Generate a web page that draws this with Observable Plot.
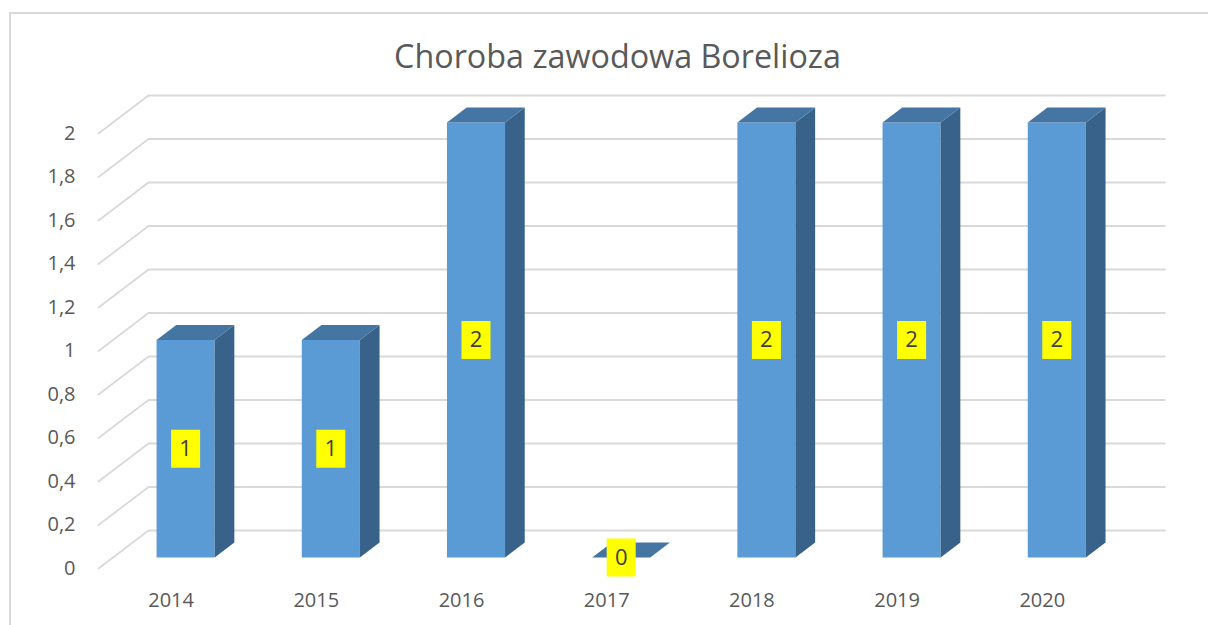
<!DOCTYPE html>
<html><head><meta charset="utf-8">
<script src="https://cdn.jsdelivr.net/npm/d3@7"></script>
<script src="https://cdn.jsdelivr.net/npm/@observablehq/plot@0.6"></script>
<style>
body{margin:0;background:#fff;}
#wrap{position:relative;width:1208px;height:625px;overflow:hidden;font-family:"Open Sans",sans-serif;}
#chart{position:absolute;left:0;top:0;}
#border{position:absolute;left:9px;top:12px;width:1400px;height:800px;border:2px solid #d9d9d9;}
#title{position:absolute;left:0;top:38.5px;width:1235px;text-align:center;font-size:32.3px;line-height:32px;color:#595959;}
</style></head><body>
<div id="wrap"><div id="chart"></div><div id="border"></div><div id="title"></div></div>
<script>
const title = "Choroba zawodowa Borelioza";
const years = ["2014", "2015", "2016", "2017", "2018", "2019", "2020"];
const values = [1, 1, 2, 0, 2, 2, 2];
const yTicks = [0, 0.2, 0.4, 0.6, 0.8, 1, 1.2, 1.4, 1.6, 1.8, 2];

document.getElementById("title").textContent = title;

// 3D projection helpers (depth expressed in scale units)
const DX = 50 / 145.2, DY = 38 / 217.5;
const F1 = 0.29, F2 = 0.684, HW = 0.2;
const P = (x, y, f) => ({x: x + f * DX, y: y + f * DY});

const grid = yTicks.flatMap(t => [
  {...P(0, t, 0), t}, {...P(0, t, 1), t}, {...P(years.length, t, 1), t}
]);

const frontFaces = [], sideFaces = [], topFaces = [];
years.forEach((yr, i) => {
  const c = i + 0.5, v = values[i];
  frontFaces.push(...[P(c - HW, 0, F1), P(c + HW, 0, F1), P(c + HW, v, F1), P(c - HW, v, F1)].map(p => ({...p, id: yr})));
  sideFaces.push(...[P(c + HW, 0, F1), P(c + HW, 0, F2), P(c + HW, v, F2), P(c + HW, v, F1)].map(p => ({...p, id: yr})));
  topFaces.push(...[P(c - HW, v, F1), P(c + HW, v, F1), P(c + HW, v, F2), P(c - HW, v, F2)].map(p => ({...p, id: yr})));
});
const labels = years.map((yr, i) => ({...P(i + 0.5, values[i] / 2, F1), text: String(values[i])}));

const box = {draw(ctx) { ctx.rect(-14.5, -19, 29, 38); }};
const fmt = d => String(+d.toFixed(1)).replace(".", ",");

const chart = Plot.plot({
  width: 1208, height: 625,
  marginLeft: 98, marginRight: 93.6, marginTop: 133, marginBottom: 57,
  x: {domain: [0, years.length]},
  y: {domain: [0, 2]},
  style: {fontFamily: "'Open Sans', sans-serif", fontSize: "20px", color: "#595959", background: "transparent"},
  marks: [
    Plot.line(grid, {x: "x", y: "y", z: "t", stroke: "#d9d9d9", strokeWidth: 1.8}),
    Plot.line(frontFaces, {x: "x", y: "y", z: "id", fill: "#5b9bd5", stroke: "none"}),
    Plot.line(sideFaces, {x: "x", y: "y", z: "id", fill: "#386289", stroke: "none"}),
    Plot.line(topFaces, {x: "x", y: "y", z: "id", fill: "#4475a3", stroke: "none"}),
    Plot.dot(labels, {x: "x", y: "y", symbol: box, fill: "#ffff00", stroke: "none"}),
    Plot.text(labels, {x: "x", y: "y", text: "text", fill: "#404040", fontSize: 22}),
    Plot.axisY({ticks: yTicks, tickSize: 0, tickPadding: 23, tickFormat: fmt, fill: "#595959", fontSize: 20, label: null}),
    Plot.axisX({ticks: years.map((_, i) => i + 0.5), tickSize: 0, tickPadding: 24,
      tickFormat: v => years[Math.round(v - 0.5)], fill: "#595959", fontSize: 20, label: null})
  ]
});
document.getElementById("chart").appendChild(chart);
</script>
</body></html>
